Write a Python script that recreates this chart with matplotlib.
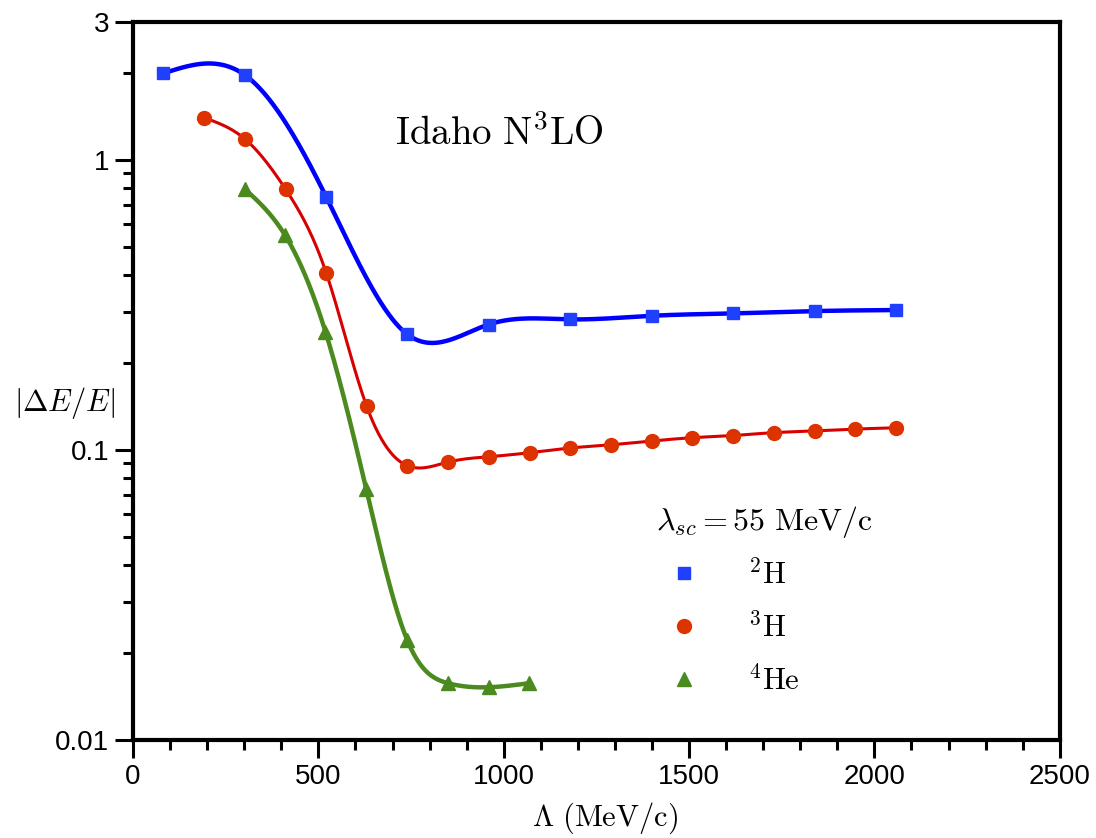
import numpy as np
import matplotlib
matplotlib.use("Agg")
import matplotlib.pyplot as plt
from matplotlib.lines import Line2D

plt.rcParams['mathtext.fontset'] = 'cm'
plt.rcParams['font.family'] = ['Liberation Sans', 'DejaVu Sans']

# datos
lam_h2 = [81, 303, 521, 740, 959, 1178, 1399, 1619, 1839, 2058]
de_h2 = [1.99, 1.96, 0.747, 0.2506, 0.271, 0.2823, 0.2904, 0.296, 0.3015, 0.304]

lam_h3 = [192, 303, 412, 521, 630, 740, 850, 959, 1070, 1179, 1290, 1399, 1509,
          1619, 1728, 1839, 1949, 2058]
de_h3 = [1.40, 1.179, 0.792, 0.4087, 0.1419, 0.0883, 0.0909, 0.0948, 0.0979,
         0.1016, 0.1043, 0.1074, 0.1103, 0.1122, 0.1148, 0.1163, 0.1181, 0.1193]

lam_he4 = [302, 410, 519, 629, 739, 850, 959, 1069]
de_he4 = [0.794, 0.551, 0.256, 0.0734, 0.0222, 0.01569, 0.0152, 0.0157]


def spline(x, y, n=500):
    # spline cubico natural en log10(y), solo para dibujar la curva suave
    x = np.asarray(x, float)
    y = np.log10(np.asarray(y, float))
    k = len(x)
    h = np.diff(x)
    A = np.zeros((k, k))
    b = np.zeros(k)
    A[0, 0] = A[-1, -1] = 1
    for i in range(1, k - 1):
        A[i, i - 1] = h[i - 1]
        A[i, i] = 2 * (h[i - 1] + h[i])
        A[i, i + 1] = h[i]
        b[i] = 3 * ((y[i + 1] - y[i]) / h[i] - (y[i] - y[i - 1]) / h[i - 1])
    c = np.linalg.solve(A, b)
    bb = (y[1:] - y[:-1]) / h - h * (2 * c[:-1] + c[1:]) / 3
    d = (c[1:] - c[:-1]) / (3 * h)
    xs = np.linspace(x[0], x[-1], n)
    idx = np.clip(np.searchsorted(x, xs) - 1, 0, k - 2)
    dx = xs - x[idx]
    ys = y[idx] + bb[idx] * dx + c[idx] * dx**2 + d[idx] * dx**3
    return xs, 10**ys


fig = plt.figure(figsize=(10.96, 8.38), dpi=100)
ax = fig.add_axes([0.1214, 0.117, 0.8455, 0.857])

series = [
    (lam_h2, de_h2, '#0000ff', '#2040ff', 's', 9, 3.2, r'$^2\mathrm{H}$'),
    (lam_h3, de_h3, '#d80000', '#dd3300', 'o', 10, 2.2, r'$^3\mathrm{H}$'),
    (lam_he4, de_he4, '#4a8a1e', '#4a8a1e', '^', 10, 3.2, r'$^4\mathrm{He}$'),
]
handles = []
for x, y, lc, mc, mk, ms, lw, lab in series:
    xs, ys = spline(x, y)
    ax.plot(xs, ys, color=lc, lw=lw, zorder=2)
    ax.plot(x, y, linestyle='none', marker=mk, ms=ms, color=mc, zorder=3)
    handles.append(Line2D([], [], linestyle='none', marker=mk, ms=ms, color=mc, label=lab))

ax.set_yscale('log')
ax.set_xlim(0, 2500)
ax.set_ylim(0.01, 3)
ax.set_yticks([0.01, 0.1, 1, 3])
ax.set_yticklabels(['0.01', '0.1', '1', '3'])
minors = [m * 10.0**e for e in (-2, -1) for m in range(2, 10)] + [2]
ax.set_yticks(minors, minor=True)
ax.set_xticks([0, 500, 1000, 1500, 2000, 2500])
ax.set_xticks(np.arange(0, 2501, 100), minor=True)

for s in ax.spines.values():
    s.set_linewidth(3)
ax.tick_params(which='major', direction='out', length=13, width=2.2, labelsize=20, pad=4)
ax.tick_params(which='minor', direction='out', length=7, width=2.2)
ax.tick_params(top=False, right=False, which='both')

fig.text(0.552, 0.023, r'$\Lambda\ (\mathrm{MeV/c})$', fontsize=22, ha='center', va='center')
fig.text(0.0593, 0.519, r'$|\Delta E/E|$', fontsize=22, ha='center', va='center')
ax.text(0.283, 0.845, r'$\mathrm{Idaho\ N^3LO}$', transform=ax.transAxes,
        fontsize=28, va='center')

leg = ax.legend(handles=handles, loc='upper left', bbox_to_anchor=(0.548, 0.35),
                frameon=False, fontsize=22, title=r'$\lambda_{sc} = 55\ \mathrm{MeV/c}$',
                title_fontsize=23, labelspacing=0.72, handlelength=1.8,
                handletextpad=1.2, borderpad=0)
leg._legend_box.align = 'left'
leg._legend_box.sep = 14

plt.savefig('out.png', dpi=100)
